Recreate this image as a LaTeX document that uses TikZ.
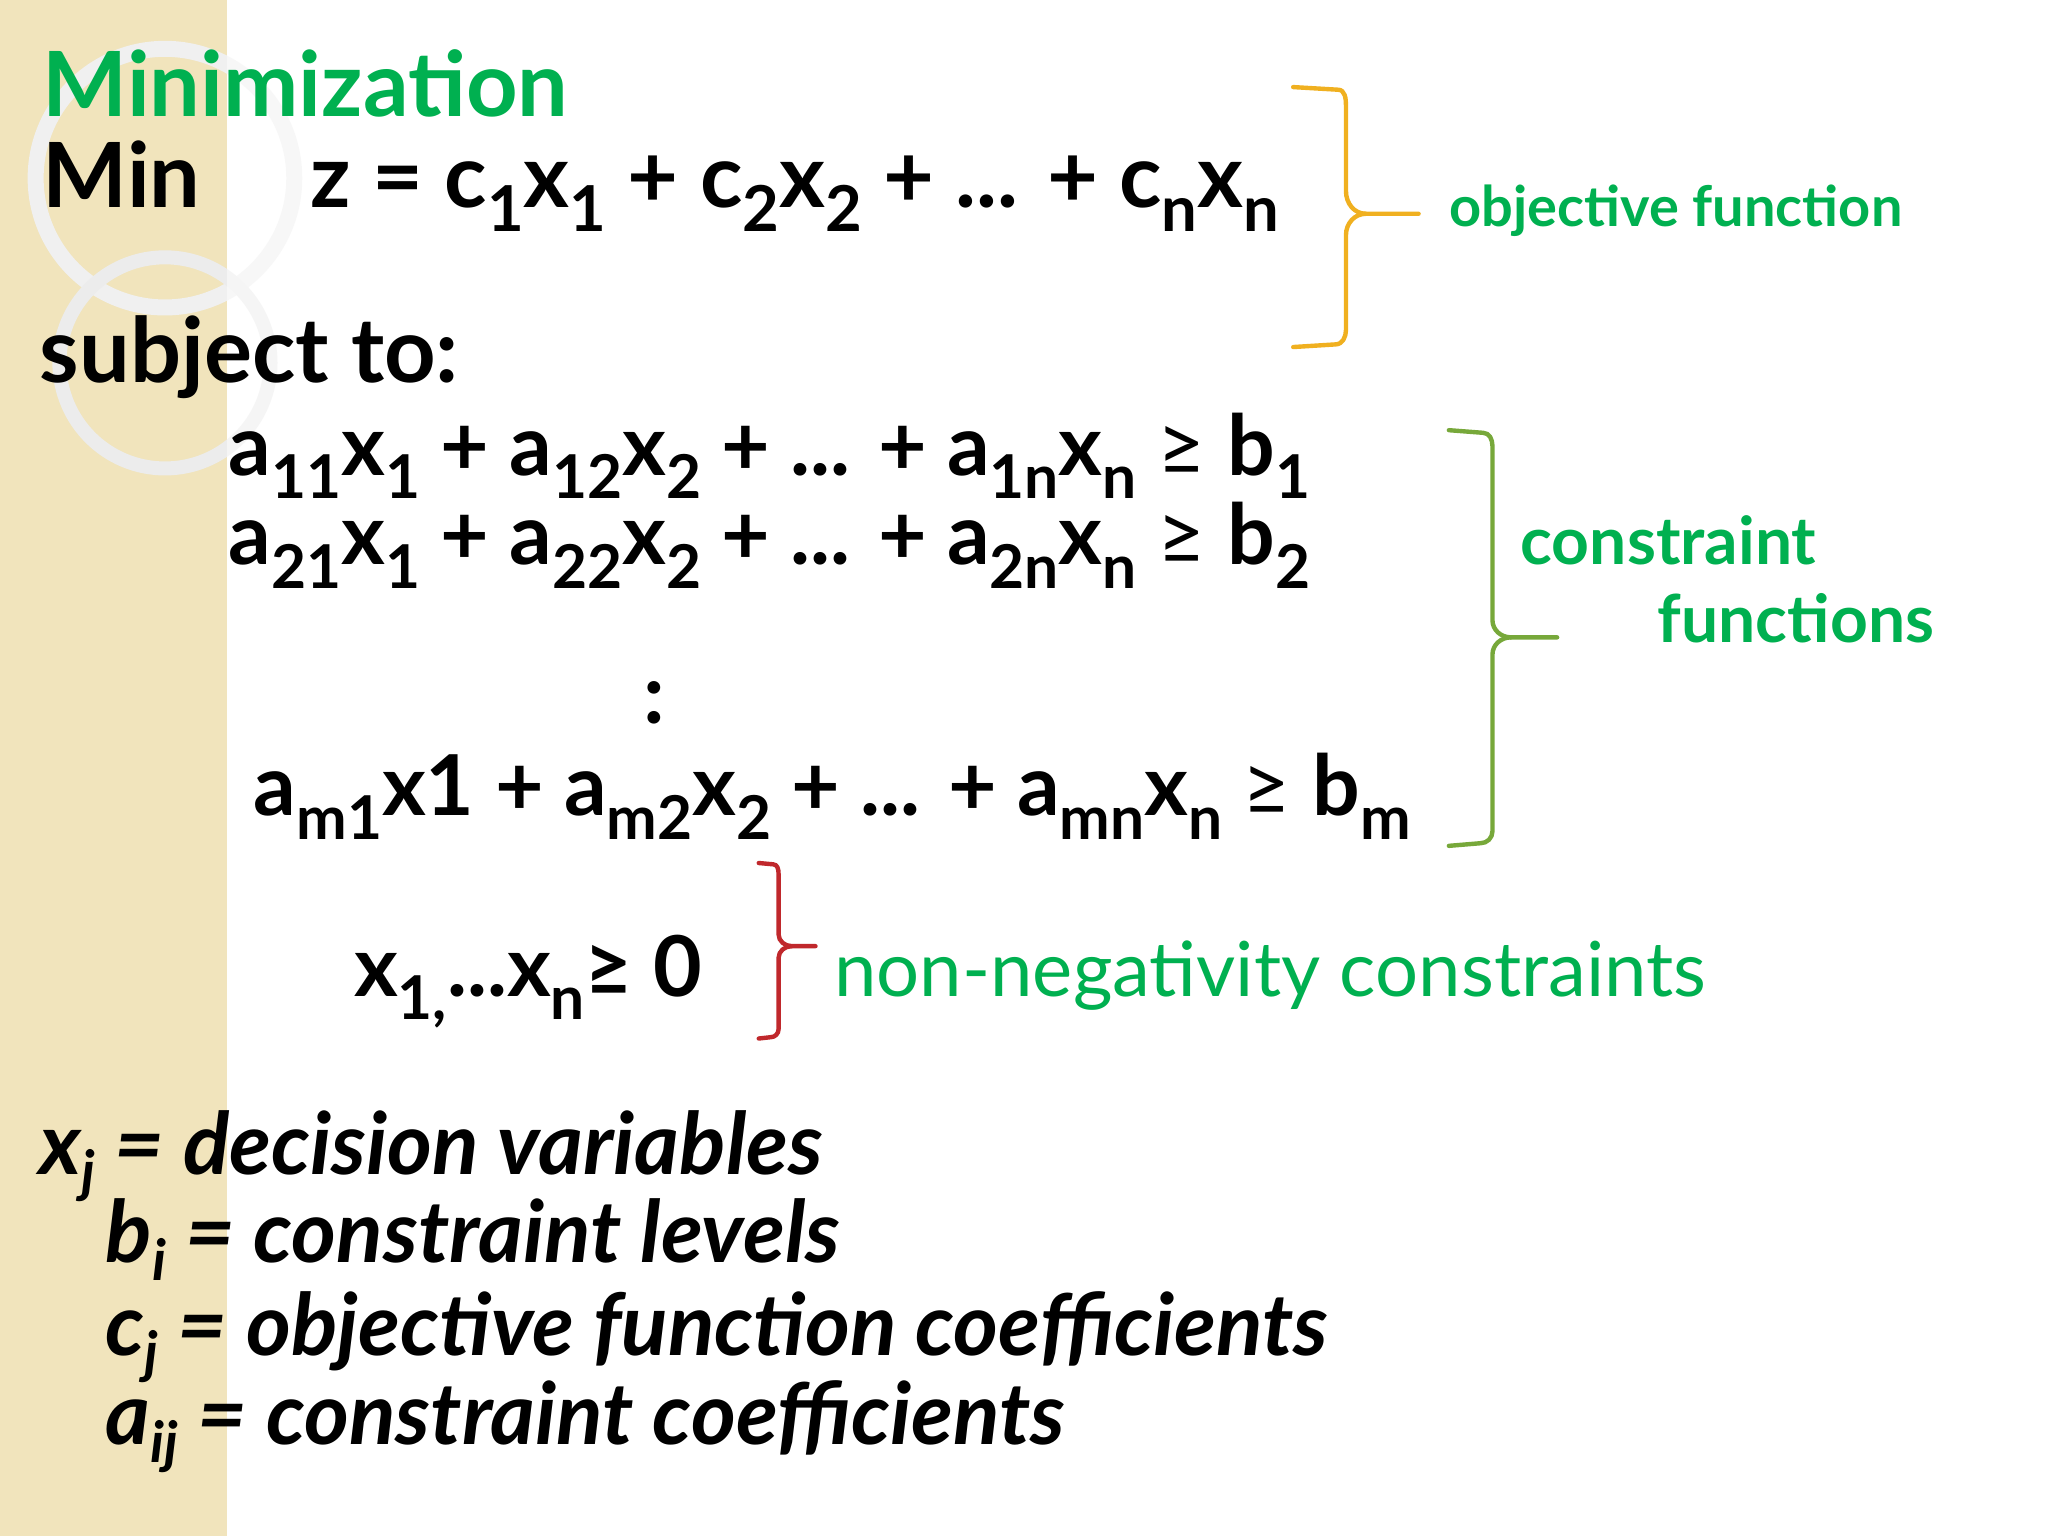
\documentclass[tikz,border=0pt]{standalone}
\usepackage{fontspec}
\setmainfont{Lato}
\newcommand\dn[1]{\raisebox{-0.28em}{\scalebox{0.72}{#1}}}
\newcommand\dd[1]{\raisebox{-0.2em}{\scalebox{0.66}{#1}}}
\definecolor{grn}{HTML}{00B050}
\definecolor{org}{HTML}{F0B020}
\definecolor{lgr}{HTML}{77A83A}
\definecolor{rd}{HTML}{C0282C}
\definecolor{beige}{HTML}{F1E4BC}
\tikzset{
 t/.style={anchor=base west,inner sep=0pt,font=\bfseries\fontsize{42}{46}\selectfont},
 big/.style={anchor=base west,inner sep=0pt,font=\bfseries\fontsize{45}{50}\selectfont},
 lab/.style={anchor=base west,inner sep=0pt,text=grn},
 brace/.style={line width=2.2pt,line join=round,line cap=round},
 defn/.style={anchor=base west,inner sep=0pt,font=\bfseries\itshape\fontsize{43}{46}\selectfont}
}
\begin{document}
\begin{tikzpicture}[x=0.66pt,y=-0.66pt]
\useasboundingbox (0,0) rectangle (1552,1164);
\fill[white] (0,0) rectangle (1552,1164);
\fill[beige] (0,0) rectangle (172,1164);
\draw[gray!12,line width=8pt] (125,135) circle (98);
\draw[gray!15,line width=7pt] (125,275) circle (80);
\fill[white,opacity=0.5] (172,0) rectangle (300,400);
% text
\node[big,text=grn] (title) at (32,88) {Minimization};
\node[big] (min) at (32,157) {Min};
\node[t,font=\bfseries\fontsize{44}{48}\selectfont] (obj) at (235,157) {z = c\dn{1}x\dn{1} + c\dn{2}x\dn{2} + ... + c\dn{n}x\dn{n}};
\node[big] (st) at (30,290) {subject to:};
\node[t] (c1) at (173,360) {a\dn{11}x\dn{1} + a\dn{12}x\dn{2} + ... + a\dn{1n}x\dn{n} \mdseries≥ \bfseries b\dn{1}};
\node[t] (c2) at (173,428) {a\dn{21}x\dn{1} + a\dn{22}x\dn{2} + ... + a\dn{2n}x\dn{n} \mdseries≥ \bfseries b\dn{2}};
\node[t] (dots) at (487,548) {:};
\node[t] (cm) at (192,618) {a\dn{m1}x1 + a\dn{m2}x\dn{2} + ... + a\dn{mn}x\dn{n} \mdseries≥ \bfseries b\dn{m}};
\node[t] (nn) at (268,755) {x\dn{1,}...x\dn{n}≥ 0};
\node[lab,font=\bfseries\fontsize{28}{30}\selectfont] (lobj) at (1098,172) {objective function};
\node[lab,font=\bfseries\fontsize{33}{36}\selectfont] (lc1) at (1152,428) {constraint};
\node[lab,font=\bfseries\fontsize{33}{36}\selectfont] (lc2) at (1256,487) {functions};
\node[lab,font=\fontsize{38}{42}\selectfont] (lnn) at (632,755) {non-negativity constraints};
\node[defn] (d1) at (30,890) {x\dd{j} = decision variables};
\node[defn] (d2) at (80,957) {b\dd{i} = constraint levels};
\node[defn] (d3) at (80,1027) {c\dd{j} = objective function coefficients};
\node[defn] (d4) at (80,1095) {a\dd{ij} = constraint coefficients};
% braces
\draw[brace,org] (980,66) -- (1014,68) to[out=0,in=90] (1020,80) -- (1020,145) to[out=-90,in=180] (1035,162) -- (1075,162);
\draw[brace,org] (1035,162) to[out=180,in=90] (1020,178) -- (1020,250) to[out=-90,in=0] (1012,261) -- (980,263);
\draw[brace,lgr] (1098,326) -- (1124,328) to[out=0,in=90] (1131,338) -- (1131,470) to[out=-90,in=180] (1145,483) -- (1180,483);
\draw[brace,lgr] (1145,483) to[out=180,in=90] (1131,496) -- (1131,630) to[out=-90,in=0] (1122,639) -- (1098,641);
\draw[brace,rd] (575,654) -- (586,655) to[out=0,in=90] (590,662) -- (590,708) to[out=-90,in=180] (600,717) -- (618,717);
\draw[brace,rd] (600,717) to[out=180,in=90] (590,726) -- (590,780) to[out=-90,in=0] (584,786) -- (575,787);
\end{tikzpicture}
\end{document}
